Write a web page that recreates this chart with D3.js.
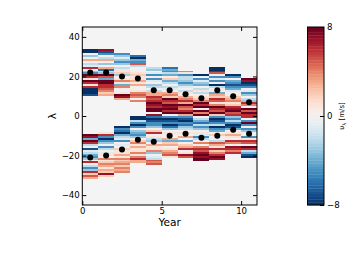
<!DOCTYPE html>
<html>
<head>
<meta charset="utf-8">
<script src="https://cdn.jsdelivr.net/npm/d3@7"></script>
<style>
  body { margin: 0; background: #fff; }
  svg text { font-family: "DejaVu Sans", sans-serif; }
</style>
</head>
<body>
<svg id="chart" width="360" height="270"></svg>
<script>
// one column per year; rows are 1 degree of latitude, listed from the top edge down
const years = [0, 1, 2, 3, 4, 5, 6, 7, 8, 9, 10];

const northTop = [34, 34, 32, 31, 25, 25, 23, 21, 25, 21, 19];
const northVals = [
  [-8, -8, 0, -3, 0, 3, 0, -2, -1, 6, 0, -3, -5, 8, 6, 1, 8, 6, 1, 6, -8, -8, -8, -7],
  [7, -7, -5, 0, -2, 3, 0, -3, 0, 3, -6, -2, -3, 8, 5, -4, 8, 8, 6, 6, 5, 4, 2, 3],
  [-5, -3, -1, -3, -5, -3, 0, -2, 1, -1, 2, -3, 0, 1, 4, 1, -4, 4, 0, 0, 1, 8, 7, 3],
  [-6, -8, -4, -5, 5, -2, 0, 0, 0, 1, 2, 1, 1, 3, 1, 3, 0, 0, 1, 4, 5, 4, 0, 4],
  [-2, -3, 0, -1, -5, 0, -5, -1, 0, -3, -2, 0, -2, 3, 3, 6, 5, 6, 8, 7, 6, 8, 8, 0, 7],
  [-6, -4, -5, -2, -4, 0, 2, -4, -2, 0, -2, -1, 0, 3, 4, 2, 8, 6, 5, 8, 7, 8, 6, 8, 0],
  [4, 1, -5, -2, -2, -3, -5, -3, -1, 0, -2, 1, 0, 3, 4, 6, 3, 8, 5, 4, 6, 8, 3],
  [-8, 0, -5, -1, -3, -4, 0, -2, 1, -2, 0, 1, 2, 4, 8, 6, 8, 0, 8, 4, 8],
  [-8, -8, -7, 5, 0, -5, -1, -5, 0, -8, -2, 0, 0, -4, 3, 2, 6, 5, 1, 4, 8, 6, 5, 8, 2],
  [-8, -5, 0, -4, -5, -7, -5, -4, -1, 0, 0, 2, 3, 4, 1, 2, 6, 7, 8, 5, 6],
  [8, 7, -8, -7, -5, 0, -1, -5, -3, 0, -2, -3, 6, 4, 0, 8, 5, 8, 6]
];

const southTop = [-9, -8, -5, 0, 0, 0, 0, 0, 0, 0, 0];
const southVals = [
  [8, 7, -4, 8, 6, -2, 0, -7, -1, -2, -4, -5, -3, 0, 6, 0, -2, -5, -3, 6, 2, 5, 3],
  [1, 6, -5, -8, -5, -3, 0, -5, -2, 0, -1, 1, 0, 4, 1, 2, 4, 3, 1, 3, 2, 7, 2],
  [-8, -5, -6, -8, -4, -2, -1, -5, 0, -1, 0, 2, 1, 1, 3, 1, 4, 2, 3, 4, 2, 4, 3, 4],
  [-8, -8, -2, -5, -8, -5, 0, -3, -4, -5, -3, 0, 2, 4, 1, 3, 1, 1, 4, 1, 4, 6, 3, 3],
  [-6, -8, -7, -5, -5, -3, 0, 2, 6, 0, 1, -2, -3, 0, 3, 1, 1, 4, -3, 0, -1, -2, 5, 4, 5],
  [-5, -8, -7, -5, -8, -6, -3, 0, 1, 0, 0, 3, -4, 2, 3, 0, 1, 3, 4, 5, 1],
  [-5, -7, -8, -5, -6, -3, -2, 0, 1, 0, 3, 0, -4, 0, 2, 3, 6, 0, 1, 7, 5],
  [0, -2, -4, -6, -2, -5, -3, 0, 1, -1, -5, -2, 0, 4, 0, 4, 6, 5, 7, 8, 7, 8, 8],
  [-5, -8, -7, -5, -2, -8, -5, -4, 0, 2, 0, 0, -2, 5, 3, 1, 6, 2, 4, 6, 8, 7],
  [-3, -5, -2, -5, -8, -7, -4, 0, 1, 3, 1, 0, 6, 4, 0, 7, 6, 4, 6],
  [6, 0, -5, 8, -5, 0, -5, -3, 0, 0, -5, 1, 6, 5, 0, 8, 6, -2, -4, -7, -8]
];

// centroid tracks (black dots)
const northTrack = [22, 22, 20, 19, 13, 13, 11, 9, 13, 10, 7];
const southTrack = [-21, -20, -17, -12, -13, -10, -9, -11, -10, -7, -9];

const xTicks = [0, 5, 10];
const yTicks = [-40, -20, 0, 20, 40];
const cbTicks = [-8, 0, 8];

const svg = d3.select("#chart");
const fmt = d => d < 0 ? "\u2212" + Math.abs(d) : String(d);

const x = d3.scaleLinear().domain([0, 11]).range([82.3, 257]);
const y = d3.scaleLinear().domain([-45, 45]).range([205, 27]);
const color = v => d3.interpolateRdBu((8 - v) / 16);

svg.append("rect")
  .attr("x", x(0)).attr("y", y(45))
  .attr("width", x(11) - x(0)).attr("height", y(-45) - y(45))
  .attr("fill", "#f4f4f4");

function rows(tops, vals) {
  const out = [];
  vals.forEach((col, i) => {
    col.forEach((v, k) => out.push({ year: years[i], hi: tops[i] - k, v: v }));
  });
  return out;
}

const cells = rows(northTop, northVals).concat(rows(southTop, southVals));

svg.append("g").selectAll("rect")
  .data(cells).enter()
  .append("rect")
  .attr("x", d => x(d.year))
  .attr("width", d => x(d.year + 1) - x(d.year))
  .attr("y", d => y(d.hi))
  .attr("height", d => y(d.hi - 1) - y(d.hi))
  .attr("fill", d => color(d.v))
  .attr("shape-rendering", "crispEdges");

const dots = years.map((yr, i) => ({ yr, lat: northTrack[i] }))
  .concat(years.map((yr, i) => ({ yr, lat: southTrack[i] })));

svg.append("g").selectAll("circle")
  .data(dots).enter()
  .append("circle")
  .attr("cx", d => x(d.yr + 0.5))
  .attr("cy", d => y(d.lat))
  .attr("r", 3)
  .attr("fill", "#000");

// axes, ticks pointing inward on all four sides
const axB = svg.append("g").attr("transform", `translate(0,${y(-45)})`)
  .call(d3.axisBottom(x).tickValues(xTicks).tickFormat(fmt).tickSize(-4).tickPadding(3));
const axT = svg.append("g").attr("transform", `translate(0,${y(45)})`)
  .call(d3.axisTop(x).tickValues(xTicks).tickFormat("").tickSize(-4));
const axL = svg.append("g").attr("transform", `translate(${x(0)},0)`)
  .call(d3.axisLeft(y).tickValues(yTicks).tickFormat(fmt).tickSize(-4).tickPadding(2.5));
const axR = svg.append("g").attr("transform", `translate(${x(11)},0)`)
  .call(d3.axisRight(y).tickValues(yTicks).tickFormat("").tickSize(-4));

[axB, axT, axL, axR].forEach(g => {
  g.select(".domain").remove();
  g.selectAll("line").attr("stroke", "#000");
  g.selectAll("text").attr("font-size", 8.6).attr("fill", "#000");
});

svg.append("rect")
  .attr("x", x(0)).attr("y", y(45))
  .attr("width", x(11) - x(0)).attr("height", y(-45) - y(45))
  .attr("fill", "none").attr("stroke", "#000").attr("stroke-width", 1);

svg.append("text")
  .attr("x", (x(0) + x(11)) / 2).attr("y", 226)
  .attr("text-anchor", "middle").attr("font-size", 10.6)
  .text("Year");

svg.append("text")
  .attr("transform", `translate(56,${y(0)}) rotate(-90)`)
  .attr("text-anchor", "middle").attr("font-size", 10.6)
  .text("λ");

// colorbar
const cbX = 307.5, cbW = 16.5;
const cb = d3.scaleLinear().domain([-8, 8]).range([205, 27]);
const steps = d3.range(-8, 8, 0.25);
svg.append("g").selectAll("rect")
  .data(steps).enter()
  .append("rect")
  .attr("x", cbX).attr("width", cbW)
  .attr("y", d => cb(d + 0.25))
  .attr("height", cb(0) - cb(0.25) + 0.3)
  .attr("fill", d => color(d + 0.125));

svg.append("rect")
  .attr("x", cbX).attr("y", cb(8))
  .attr("width", cbW).attr("height", cb(-8) - cb(8))
  .attr("fill", "none").attr("stroke", "#000");

const axC = svg.append("g").attr("transform", `translate(${cbX + cbW},0)`)
  .call(d3.axisRight(cb).tickValues(cbTicks).tickFormat(fmt).tickSize(-4).tickPadding(3));
axC.select(".domain").remove();
axC.selectAll("line").attr("stroke", "#000");
axC.selectAll("text").attr("font-size", 8.6).attr("fill", "#000");

const cbLabel = svg.append("text")
  .attr("transform", `translate(344,${cb(0)}) rotate(-90)`)
  .attr("text-anchor", "middle").attr("font-size", 7);
cbLabel.append("tspan").text("υ");
cbLabel.append("tspan").attr("font-size", 5).attr("dy", 1.5).text("λ");
cbLabel.append("tspan").attr("dy", -1.5).text(" [m/s]");
</script>
</body>
</html>
